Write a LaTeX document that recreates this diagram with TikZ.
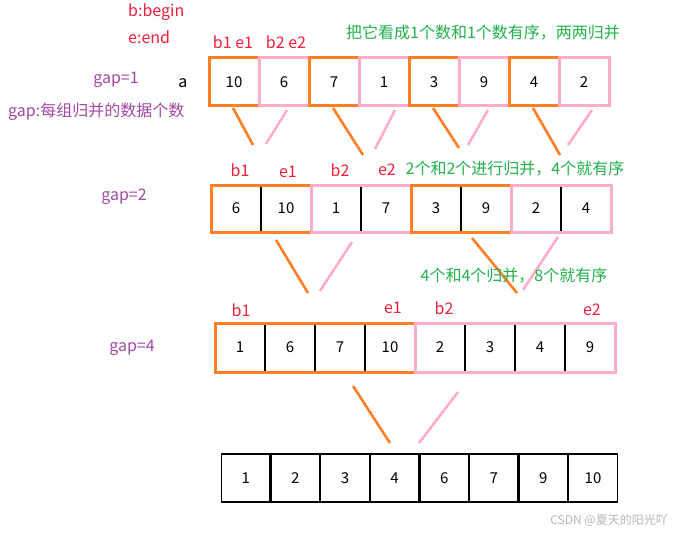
\documentclass[tikz,border=0pt]{standalone}
\usepackage{fontspec}
\setmainfont{Noto Sans CJK SC}
\usepackage{tikz}
\usetikzlibrary{positioning}
\definecolor{MergeOrange}{HTML}{FF7F27}
\definecolor{MergePink}  {HTML}{FFAEC9}
\definecolor{PtrRed}     {HTML}{F0203C}
\definecolor{GapPurple}  {HTML}{A349A4}
\definecolor{NoteGreen}  {HTML}{22B14C}
\definecolor{MarkGray}   {HTML}{B8B8B8}

\tikzset{
  cell/.style={minimum width=50pt,minimum height=48pt,inner sep=0pt,outer sep=0pt,
               font=\fontsize{15}{15}\selectfont},
  ocell/.style={cell,draw=MergeOrange,line width=3pt},
  pcell/.style={cell,draw=MergePink,line width=3pt},
  bcell/.style={cell,draw=black,line width=1.2pt},
  ogroup/.style={draw=MergeOrange,line width=3pt},
  pgroup/.style={draw=MergePink,line width=3pt},
  olink/.style={MergeOrange,line width=2.6pt},
  plink/.style={MergePink,line width=2.6pt},
  ptr/.style={text=PtrRed,inner sep=0pt,font=\fontsize{16}{16}\selectfont},
  gaplbl/.style={text=GapPurple,inner sep=0pt,font=\fontsize{16}{16}\selectfont},
  note/.style={text=NoteGreen,inner sep=0pt,font=\fontsize{16}{16}\selectfont}
}

\begin{document}
\begin{tikzpicture}[x=1pt,y=-1pt]
  \useasboundingbox[fill=white] (0,0) rectangle (678,535);

  % legend
  \node[ptr,anchor=west] (bdef) at (128,12) {b:begin};
  \node[ptr,anchor=west] (edef) at (128,37) {e:end};
  \node[gaplbl,anchor=west] (gdef) at (8,112) {gap:每组归并的数据个数};

  % gap=1
  \foreach \v/\s [count=\i] in {10/ocell,6/pcell,7/ocell,1/pcell,3/ocell,9/pcell,4/ocell,2/pcell}
    \node[\s,minimum height=48pt] (a\i) at ({184+50*\i},82) {\v};
  \node[font=\fontsize{16}{16}\selectfont,inner sep=0pt] (arr) at (183,83) {a};
  \node[gaplbl] (g1) at (116,80) {gap=1};
  \node[ptr] (a1lbl) at (233,42) {b1 e1};
  \node[ptr] (a2lbl) at (286,42) {b2 e2};
  \node[note] (n1) at (483,33) {把它看成1个数和1个数有序，两两归并};

  \foreach \i/\ex/\ey in {1/253/145,3/363/155,5/459/148,7/560/155}{
    \coordinate (ao\i) at (\ex,\ey);
    \draw[olink] ([xshift=-1pt,yshift=-2pt]a\i.south) -- (ao\i);
  }
  \foreach \i/\dx/\ex/\ey in {2/3/266/144,4/11/375/149,6/4/468/145,8/8/568/145}{
    \coordinate (ap\i) at (\ex,\ey);
    \draw[plink] ([xshift=\dx pt,yshift=-4pt]a\i.south) -- (ap\i);
  }

  % gap=2
  \foreach \v [count=\i] in {6,10,1,7,3,9,2,4}
    \node[bcell,minimum height=47pt] (b\i) at ({186+50*\i},208.5) {\v};
  \draw[ogroup] (b1.north west) rectangle (b2.south east);
  \draw[pgroup] (b3.north west) rectangle (b4.south east);
  \draw[ogroup] (b5.north west) rectangle (b6.south east);
  \draw[pgroup] (b7.north west) rectangle (b8.south east);
  \node[gaplbl] (g2) at (124,197) {gap=2};
  \node[ptr] (b1lbl) at (240,170) {b1};
  \node[ptr] (e1lbl) at (288,172) {e1};
  \node[ptr] (b2lbl) at (340,170) {b2};
  \node[ptr] (e2lbl) at (387,170) {e2};
  \node[note] (n2) at (515,169) {2个和2个进行归并，4个就有序};

  \coordinate (bo1) at (308,293);
  \coordinate (bp1) at (320,291);
  \coordinate (bo2) at (517,293);
  \coordinate (bp2) at (523,290);
  \draw[olink] ([xshift=-10pt,yshift=-8pt]b2.south) -- (bo1);
  \draw[plink] ([xshift=16pt,yshift=-10pt]b3.south) -- (bp1);
  \draw[olink] ([xshift=-14pt,yshift=-6pt]b6.south) -- (bo2);
  \draw[plink] ([xshift=22pt,yshift=-5pt]b7.south) -- (bp2);

  % gap=4
  \foreach \v [count=\i] in {1,6,7,10,2,3,4,9}
    \node[bcell,minimum height=49pt] (c\i) at ({190+50*\i},347.5) {\v};
  \draw[ogroup] (c1.north west) rectangle (c4.south east);
  \draw[pgroup] (c5.north west) rectangle (c8.south east);
  \node[gaplbl] (g4) at (132,348) {gap=4};
  \node[ptr] (c1lbl) at (241,310) {b1};
  \node[ptr] (c4lbl) at (393,308) {e1};
  \node[ptr] (c5lbl) at (444,308) {b2};
  \node[ptr] (c8lbl) at (592,310) {e2};
  \node[note] (n3) at (514,276) {4个和4个归并，8个就有序};

  \coordinate (co) at (390,443);
  \coordinate (cp) at (419,443);
  \draw[olink] ([xshift=13pt,yshift=-14pt]c3.south) -- (co);
  \draw[plink] ([xshift=18pt,yshift=-20pt]c5.south) -- (cp);

  % result
  \foreach \v [count=\i] in {1,2,3,4,6,7,9,10}
    \node[bcell,minimum width=48.5pt,minimum height=48pt] (d\i) at ({196.2+49.6*\i},478) {\v};

  \node[text=MarkGray,anchor=east,inner sep=0pt,font=\fontsize{12}{12}\selectfont] (wm) at (668,520) {CSDN @夏天的阳光吖};
\end{tikzpicture}
\end{document}
